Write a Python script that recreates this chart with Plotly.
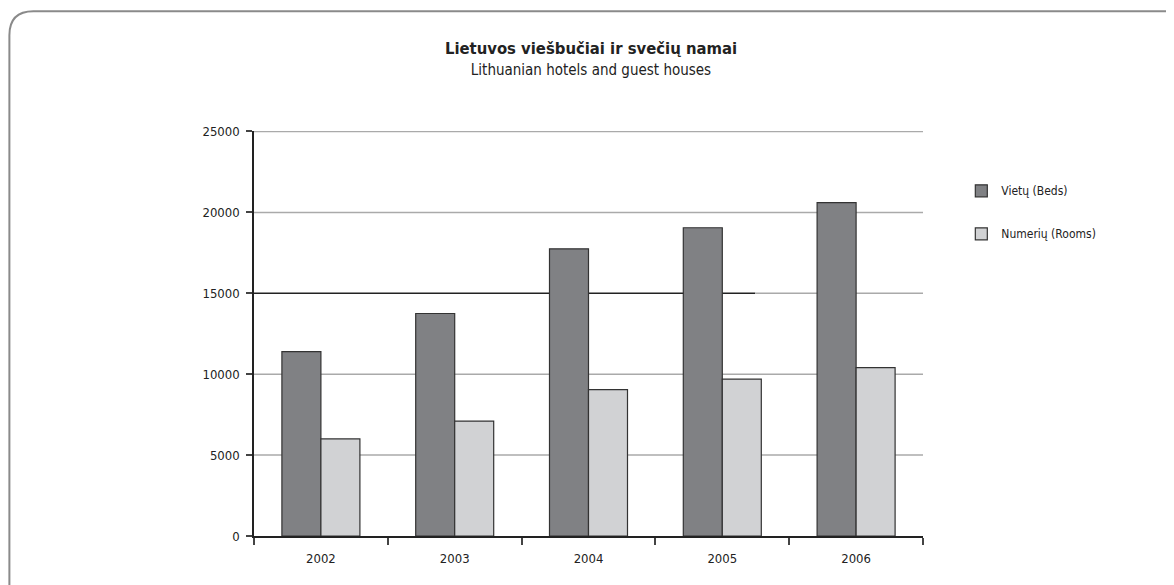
import plotly.graph_objects as go

years = ["2002", "2003", "2004", "2005", "2006"]
beds = [11400, 13750, 17750, 19050, 20600]
rooms = [6000, 7100, 9050, 9700, 10400]
series_names = ["Vietų (Beds)", "Numerių (Rooms)"]
y_ticks = [0, 5000, 10000, 15000, 20000, 25000]
y_tick_text = ["0", "5000", "10000", "15000", "20000", "25000"]

FONT = "Liberation Sans Narrow, DejaVu Sans Condensed, Roboto, sans-serif"

OFF = 8  # page body margin
W, H = 1174 - OFF, 585 - OFF
# plot area in reference screen pixels
L, R, T, B = 254, 922.7, 130.7, 535.7
PW, PH = R - L, B - T

fig = go.Figure()
fig.add_trace(go.Bar(
    x=years, y=beds, name=series_names[0], legendgroup="a",
    marker=dict(color="#808184", line=dict(color="#333333", width=1.2)),
))
fig.add_trace(go.Bar(
    x=years, y=rooms, name=series_names[1], legendgroup="b",
    marker=dict(color="#d1d2d4", line=dict(color="#333333", width=1.2)),
))


def px(x):
    return (x - L) / PW


def py(y):
    return (B - y) / PH


# rounded frame (decorative)
x0, y0, x1, y1, r = 9.5, 11, 1190, 600, 24
path = (
    f"M {px(x0)},{py(y1)} L {px(x0)},{py(y0 + r)} "
    f"Q {px(x0)},{py(y0)} {px(x0 + r)},{py(y0)} "
    f"L {px(x1 - r)},{py(y0)} Q {px(x1)},{py(y0)} {px(x1)},{py(y0 + r)} "
    f"L {px(x1)},{py(y1)}"
)
shapes = [
    dict(type="path", xref="paper", yref="paper", path=path,
         line=dict(color="#8a8a8a", width=2), layer="above"),
]
# gridlines drawn behind the bars
for v in y_ticks[1:]:
    if v == 15000:
        split = px(755)
        shapes.append(dict(type="line", xref="paper", yref="y", x0=0, x1=split, y0=v, y1=v,
                           line=dict(color="#222222", width=1.5), layer="below"))
        shapes.append(dict(type="line", xref="paper", yref="y", x0=split, x1=1, y0=v, y1=v,
                           line=dict(color="#aaaaaa", width=1.5), layer="below"))
    else:
        shapes.append(dict(type="line", xref="paper", yref="y", x0=0, x1=1, y0=v, y1=v,
                           line=dict(color="#aaaaaa", width=1.5), layer="below"))

fig.update_layout(
    width=W, height=H,
    margin=dict(l=L - OFF, r=W - (R - OFF), t=T - OFF, b=H - (B - OFF), pad=0),
    paper_bgcolor="white", plot_bgcolor="white",
    barmode="group", bargap=0.417, bargroupgap=0,
    font=dict(family=FONT, color="#222222", size=13),
    title=dict(
        text="<b>Lietuvos viešbučiai ir svečių namai</b><br><span style='font-size:15px'>Lithuanian hotels and guest houses</span>",
        x=0.5, xanchor="center", y=1 - 46 / H, yanchor="top",
        font=dict(family=FONT, size=16.5, color="#222222"),
    ),
    showlegend=True,
    legend=dict(
        x=px(961), y=py(176), xanchor="left", yanchor="top",
        font=dict(family=FONT, size=12, color="#222222"),
        tracegroupgap=24, bgcolor="rgba(0,0,0,0)",
    ),
    shapes=shapes,
)
fig.update_xaxes(
    type="category", showline=True, linecolor="#222222", linewidth=1.5,
    ticks="outside", tickson="boundaries", ticklen=7, tickcolor="#444444", tickwidth=1.5,
    showgrid=False, tickfont=dict(family=FONT, size=13, color="#222222"),
    ticklabelstandoff=10,
)
fig.update_yaxes(
    range=[0, 25030], tickvals=y_ticks, ticktext=y_tick_text,
    showline=True, linecolor="#222222", linewidth=1.5,
    ticks="outside", ticklen=6, tickcolor="#444444", tickwidth=1.5,
    showgrid=False, zeroline=False,
    tickfont=dict(family=FONT, size=13, color="#222222"), ticklabelstandoff=4,
)

fig.write_html("out.html")
